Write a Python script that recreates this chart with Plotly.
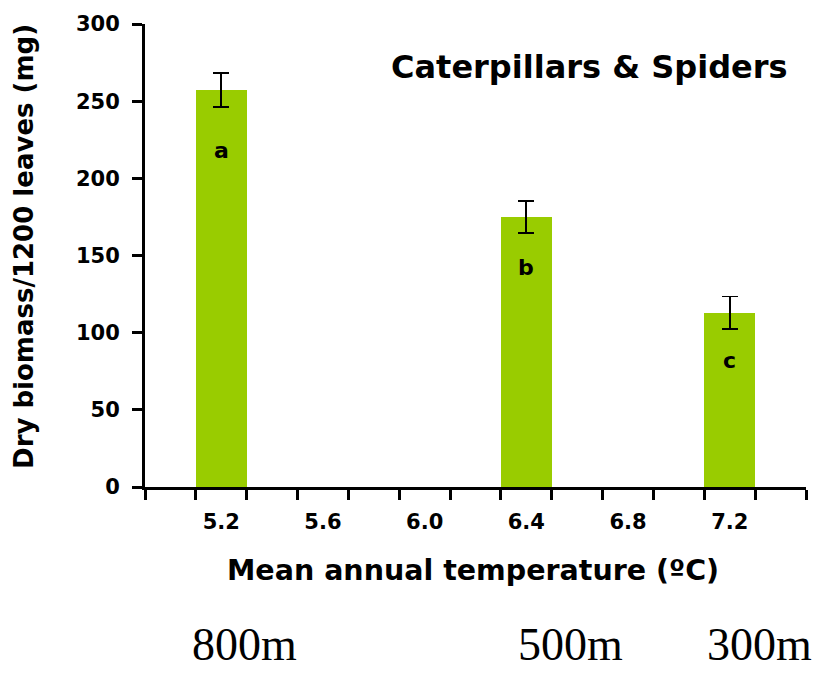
import plotly.graph_objects as go

# ---- data ----
temperatures = [5.2, 6.4, 7.2]
biomass = [257, 175, 113]
biomass_err = [11, 10.4, 10.4]
sig_letters = ["a", "b", "c"]
letter_y = [218, 142, 82]
elevations = ["800m", "500m", "300m"]
x_tick_vals = [5.2, 5.6, 6.0, 6.4, 6.8, 7.2]
x_tick_text = ["5.2", "5.6", "6.0", "6.4", "6.8", "7.2"]
y_tick_vals = [0, 50, 100, 150, 200, 250, 300]

BAR_COLOR = "#99CC00"
FONT = "DejaVu Sans"

fig = go.Figure()
fig.add_trace(go.Bar(
    x=temperatures, y=biomass, width=0.2,
    marker=dict(color=BAR_COLOR, line=dict(width=0)),
    error_y=dict(type="data", array=biomass_err, visible=True,
                 color="black", thickness=1.8, width=8),
    showlegend=False,
))

annotations = []
for t, ly, lt in zip(temperatures, letter_y, sig_letters):
    annotations.append(dict(x=t, y=ly, xref="x", yref="y", text=lt, showarrow=False,
                            xanchor="center", yanchor="middle",
                            font=dict(family=FONT, size=22, weight="bold", color="black")))

elev_shift = [23, 44, 30]
for t, e, s in zip(temperatures, elevations, elev_shift):
    annotations.append(dict(x=t, y=-0.397, xref="x", yref="paper", text=e, showarrow=False,
                            xshift=s, xanchor="center", yanchor="bottom", borderpad=0,
                            font=dict(family="Liberation Serif", size=46, color="black")))

annotations.append(dict(x=0.673, y=0.908, xref="paper", yref="paper",
                        text="Caterpillars & Spiders", showarrow=False,
                        xanchor="center", yanchor="middle",
                        font=dict(family=FONT, size=32, weight="bold", color="black")))
annotations.append(dict(x=0.496, y=-0.18, xref="paper", yref="paper",
                        text="Mean annual temperature (ºC)", showarrow=False,
                        xanchor="center", yanchor="middle",
                        font=dict(family=FONT, size=28.5, weight="bold", color="black")))
annotations.append(dict(x=-0.182, y=0.52, xref="paper", yref="paper",
                        text="Dry biomass/1200 leaves (mg)", showarrow=False, textangle=-90,
                        xanchor="center", yanchor="middle",
                        font=dict(family=FONT, size=26, weight="bold", color="black")))

fig.update_layout(
    width=820, height=673,
    margin=dict(l=145, r=14, t=21, b=186),
    paper_bgcolor="white", plot_bgcolor="white",
    annotations=annotations,
    bargap=0,
)
fig.update_xaxes(
    range=[4.9, 7.5], tickmode="array", tickvals=x_tick_vals, ticktext=x_tick_text,
    ticks="outside", ticklen=10, tickcolor="rgba(0,0,0,0)", tickwidth=3,
    tickfont=dict(family=FONT, size=21, weight="bold", color="black"),
    ticklabelstandoff=4,
    showline=True, linecolor="black", linewidth=3, showgrid=False, zeroline=False,
    minor=dict(tick0=4.9, dtick=0.2, ticks="outside", ticklen=10, tickwidth=3,
               tickcolor="black", showgrid=False),
)
fig.update_yaxes(
    range=[0, 300], tickmode="array", tickvals=y_tick_vals,
    ticks="outside", ticklen=10, tickwidth=3, tickcolor="black",
    tickfont=dict(family=FONT, size=21, weight="bold", color="black"),
    ticklabelstandoff=8,
    showline=True, linecolor="black", linewidth=3, showgrid=False, zeroline=False,
)

fig.write_html("out.html")
